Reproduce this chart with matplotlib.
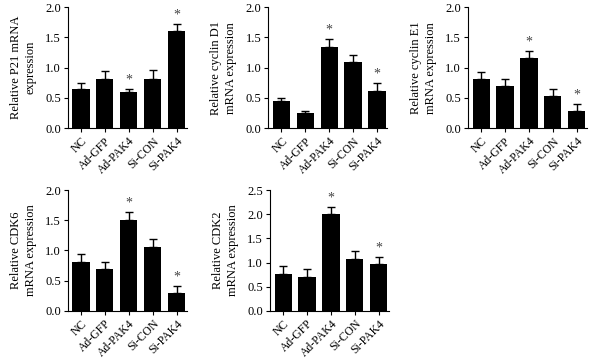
import matplotlib
matplotlib.use("Agg")
import matplotlib.pyplot as plt
import numpy as np

plt.rcParams['font.family'] = ['Liberation Serif', 'DejaVu Serif']

groups = ["NC", "Ad-GFP", "Ad-PAK4", "Si-CON", "Si-PAK4"]

# mean / upper error for each panel
p21 = [0.65, 0.81, 0.60, 0.82, 1.60]
p21_err = [0.10, 0.14, 0.05, 0.15, 0.12]
cycd1 = [0.45, 0.25, 1.34, 1.09, 0.62]
cycd1_err = [0.05, 0.04, 0.13, 0.12, 0.12]
cyce1 = [0.81, 0.69, 1.16, 0.53, 0.29]
cyce1_err = [0.12, 0.12, 0.12, 0.12, 0.11]
cdk6 = [0.815, 0.69, 1.50, 1.06, 0.29]
cdk6_err = [0.125, 0.125, 0.13, 0.13, 0.12]
cdk2 = [0.76, 0.70, 2.00, 1.07, 0.96]
cdk2_err = [0.16, 0.17, 0.15, 0.16, 0.16]

stars = [2, 4]  # groups marked with *

panels = [
    (p21, p21_err, "Relative P21 mRNA\nexpression", 2.0, [0.113, 0.648, 0.198, 0.332]),
    (cycd1, cycd1_err, "Relative cyclin D1\nmRNA expression", 2.0, [0.447, 0.648, 0.198, 0.332]),
    (cyce1, cyce1_err, "Relative cyclin E1\nmRNA expression", 2.0, [0.780, 0.648, 0.198, 0.332]),
    (cdk6, cdk6_err, "Relative CDK6\nmRNA expression", 2.0, [0.113, 0.146, 0.198, 0.332]),
    (cdk2, cdk2_err, "Relative CDK2\nmRNA expression", 2.5, [0.450, 0.146, 0.198, 0.332]),
]

fig = plt.figure(figsize=(6, 3.64), dpi=100)

for vals, errs, ylab, ymax, pos in panels:
    ax = fig.add_axes(pos)
    x = np.arange(len(groups))
    ax.bar(x, vals, width=0.72, color="black", zorder=2)
    ax.errorbar(x, vals, yerr=[np.zeros(len(vals)), errs], fmt="none",
                ecolor="black", elinewidth=1, capsize=3, capthick=1, zorder=1)
    for i in stars:
        ax.text(x[i], vals[i] + errs[i] + 0.02 * ymax, "*", ha="center",
                va="bottom", fontsize=10, color="#444444")
    ax.set_xlim(-0.55, 4.42)
    ax.set_ylim(0, ymax)
    ax.set_yticks(np.arange(0, ymax + 0.01, 0.5))
    ax.set_yticklabels(["%.1f" % v for v in np.arange(0, ymax + 0.01, 0.5)])
    ax.set_xticks(x)
    ax.set_xticklabels(groups, rotation=45, ha="right", rotation_mode="anchor")
    ax.tick_params(length=3, width=0.8, pad=2)
    ax.tick_params(axis="y", labelsize=9)
    ax.tick_params(axis="x", labelsize=8.5)
    ax.spines["top"].set_visible(False)
    ax.spines["right"].set_visible(False)
    ax.spines["left"].set_linewidth(0.8)
    ax.spines["bottom"].set_linewidth(0.8)
    ax.set_ylabel(ylab, fontsize=9, labelpad=6, linespacing=1.3)

fig.savefig("out.png", dpi=100)
